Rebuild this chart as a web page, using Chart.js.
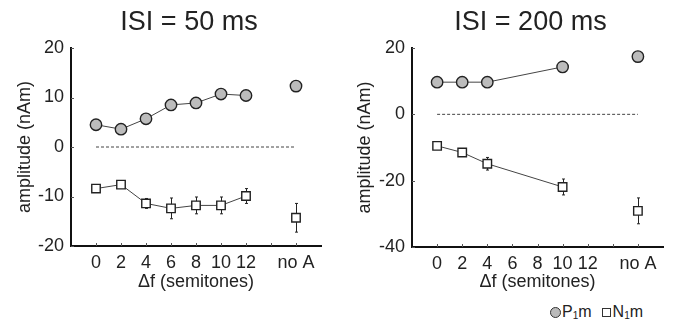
<!DOCTYPE html>
<html>
<head>
<meta charset="utf-8">
<script src="https://cdn.jsdelivr.net/npm/chart.js@4.4.1/dist/chart.umd.min.js"></script>
<style>
  body { margin: 0; background: #fff; width: 677px; height: 328px; position: relative; overflow: hidden;
         font-family: "Liberation Sans", Arial, sans-serif; color: #222; }
  canvas { position: absolute; top: 0; }
  #left { left: 0; }
  #right { left: 340px; }
  #legend { position: absolute; left: 550px; top: 302px; font-size: 16px; line-height: 20px; white-space: nowrap; color: #222; }
  #legend sub { font-size: 10px; vertical-align: -2px; }
  .dot { display: inline-block; width: 9px; height: 9px; border-radius: 50%; background: #bbb; border: 1px solid #333; vertical-align: -1px; margin-right: 1px; }
  .box { display: inline-block; width: 7px; height: 7px; background: #fff; border: 1.5px solid #333; vertical-align: 0px; margin-left: 10px; margin-right: 2px; }
</style>
</head>
<body>
<canvas id="left" width="340" height="300"></canvas>
<canvas id="right" width="337" height="300"></canvas>
<div id="legend"><span class="dot"></span>P<sub>1</sub>m<span class="box"></span>N<sub>1</sub>m</div>
<script>
// x positions (semitones); "no A" sits at 16 on the same axis
const noAPos = 16;
const xTickLabels = { 0: '0', 2: '2', 4: '4', 6: '6', 8: '8', 10: '10', 12: '12', 16: 'no A' };

// ISI = 50 ms
const semis50 = [0, 2, 4, 6, 8, 10, 12];
const p1m50 = [4.5, 3.6, 5.7, 8.5, 8.9, 10.7, 10.4];
const n1m50 = [-8.4, -7.6, -11.4, -12.4, -11.8, -11.8, -9.9];
const n1m50Err = [0.4, 0.4, 1.0, 2.1, 1.7, 1.7, 1.5];
const p1m50NoA = 12.3;
const n1m50NoA = -14.3;
const n1m50NoAErr = 2.9;
const yTicks50 = [-20, -10, 0, 10, 20];

// ISI = 200 ms
const semis200 = [0, 2, 4, 10];
const p1m200 = [9.7, 9.7, 9.7, 14.3];
const n1m200 = [-9.5, -11.5, -14.9, -21.9];
const n1m200Err = [0.5, 0.8, 1.9, 2.4];
const p1m200NoA = 17.4;
const n1m200NoA = -29.1;
const n1m200NoAErr = 3.9;
const yTicks200 = [-40, -20, 0, 20];

const FONT = '"Liberation Sans", Arial, sans-serif';
const INK = '#222';

const panelTitle = {
    id: 'panelTitle',
    afterDraw(chart, args, opts) {
        const ctx = chart.ctx;
        const area = chart.chartArea;
        ctx.save();
        ctx.font = '27px ' + FONT;
        ctx.fillStyle = INK;
        ctx.textAlign = 'center';
        ctx.textBaseline = 'middle';
        ctx.fillText(opts.text, (area.left + area.right) / 2 - 7, 23);
        ctx.restore();
    }
};

// small inward tick marks, like the original figure
const innerTicks = {
    id: 'innerTicks',
    afterDraw(chart) {
        const ctx = chart.ctx;
        const area = chart.chartArea;
        const xs = chart.scales.x, ys = chart.scales.y;
        ctx.save();
        ctx.strokeStyle = '#555';
        ctx.lineWidth = 1;
        ctx.beginPath();
        ys.ticks.forEach(t => {
            const py = Math.round(ys.getPixelForValue(t.value)) + 0.5;
            ctx.moveTo(area.left, py);
            ctx.lineTo(area.left + 3, py);
        });
        for (let v = 0; v <= noAPos; v += 2) {
            const px = Math.round(xs.getPixelForValue(v)) + 0.5;
            ctx.moveTo(px, area.bottom);
            ctx.lineTo(px, area.bottom - 3);
        }
        ctx.stroke();
        ctx.restore();
    }
};

const errorBars = {
    id: 'errorBars',
    beforeDatasetsDraw(chart, args, opts) {
        const ctx = chart.ctx;
        const xs = chart.scales.x, ys = chart.scales.y;
        ctx.save();
        ctx.strokeStyle = INK;
        ctx.lineWidth = 1;
        ctx.beginPath();
        opts.bars.forEach(b => {
            b.x.forEach((xv, i) => {
                const px = Math.round(xs.getPixelForValue(xv)) + 0.5;
                const top = ys.getPixelForValue(b.y[i] + b.err[i]);
                const bot = ys.getPixelForValue(b.y[i] - b.err[i]);
                ctx.moveTo(px, top); ctx.lineTo(px, bot);
                ctx.moveTo(px - 1.5, top); ctx.lineTo(px + 1.5, top);
                ctx.moveTo(px - 1.5, bot); ctx.lineTo(px + 1.5, bot);
            });
        });
        ctx.stroke();
        ctx.restore();
    }
};

function toPoints(xs, ys) {
    return xs.map((x, i) => ({ x: x, y: ys[i] }));
}

function makePanel(id, cfg) {
    const circle = {
        pointStyle: 'circle', pointRadius: 5.7, pointBackgroundColor: '#bcbcbc',
        pointBorderColor: INK, pointBorderWidth: 1.4
    };
    const square = {
        pointStyle: 'rect', pointRadius: 6, pointBackgroundColor: '#fff',
        pointBorderColor: INK, pointBorderWidth: 1.4
    };
    new Chart(document.getElementById(id), {
        type: 'scatter',
        data: {
            datasets: [
                Object.assign({ data: toPoints(cfg.semis, cfg.p1m), showLine: true, borderColor: '#444', borderWidth: 1 }, circle),
                Object.assign({ data: [{ x: noAPos, y: cfg.p1mNoA }] }, circle),
                Object.assign({ data: toPoints(cfg.semis, cfg.n1m), showLine: true, borderColor: '#444', borderWidth: 1 }, square),
                Object.assign({ data: [{ x: noAPos, y: cfg.n1mNoA }] }, square),
                {
                    data: [{ x: cfg.semis[0], y: 0 }, { x: noAPos, y: 0 }],
                    showLine: true, borderColor: '#444', borderWidth: 1, borderDash: [3, 2], pointRadius: 0
                }
            ]
        },
        options: {
            responsive: false,
            animation: false,
            layout: { padding: { top: 48, right: cfg.padRight, left: 0, bottom: 0 } },
            plugins: {
                legend: { display: false },
                tooltip: { enabled: false },
                panelTitle: { text: cfg.title },
                errorBars: {
                    bars: [
                        { x: cfg.semis, y: cfg.n1m, err: cfg.n1mErr },
                        { x: [noAPos], y: [cfg.n1mNoA], err: [cfg.n1mNoAErr] }
                    ]
                }
            },
            scales: {
                x: {
                    type: 'linear', min: -2, max: 18,
                    afterBuildTicks: s => { s.ticks = []; for (let v = -2; v <= 18; v += 2) s.ticks.push({ value: v }); },
                    afterFit: s => { s.height = 300 - cfg.bottom; },
                    grid: { display: false, drawTicks: false },
                    border: { display: true, color: '#111', width: 2 },
                    ticks: {
                        autoSkip: false, maxRotation: 0, padding: 6, color: INK,
                        font: { family: FONT, size: 18 },
                        callback: v => (xTickLabels[v] !== undefined ? xTickLabels[v] : '')
                    },
                    title: { display: true, text: '\u0394f (semitones)', color: INK, font: { family: FONT, size: 18 }, padding: { top: 0, bottom: 7 } }
                },
                y: {
                    min: cfg.yTicks[0], max: cfg.yTicks[cfg.yTicks.length - 1],
                    afterBuildTicks: s => { s.ticks = cfg.yTicks.map(v => ({ value: v })); },
                    afterFit: s => { s.width = cfg.left; },
                    grid: { display: false, drawTicks: false },
                    border: { display: true, color: '#111', width: 2 },
                    ticks: { padding: 7, color: INK, font: { family: FONT, size: 18 } },
                    title: { display: true, text: 'amplitude (nAm)', color: INK, font: { family: FONT, size: 18 }, padding: { top: 14, bottom: 0 } }
                }
            }
        },
        plugins: [panelTitle, innerTicks, errorBars]
    });
}

makePanel('left', {
    title: 'ISI = 50 ms', semis: semis50, p1m: p1m50, n1m: n1m50, n1mErr: n1m50Err,
    p1mNoA: p1m50NoA, n1mNoA: n1m50NoA, n1mNoAErr: n1m50NoAErr, yTicks: yTicks50,
    left: 71, padRight: 19, bottom: 246
});
makePanel('right', {
    title: 'ISI = 200 ms', semis: semis200, p1m: p1m200, n1m: n1m200, n1mErr: n1m200Err,
    p1mNoA: p1m200NoA, n1mNoA: n1m200NoA, n1mNoAErr: n1m200NoAErr, yTicks: yTicks200,
    left: 72, padRight: 14, bottom: 247
});
</script>
</body>
</html>
